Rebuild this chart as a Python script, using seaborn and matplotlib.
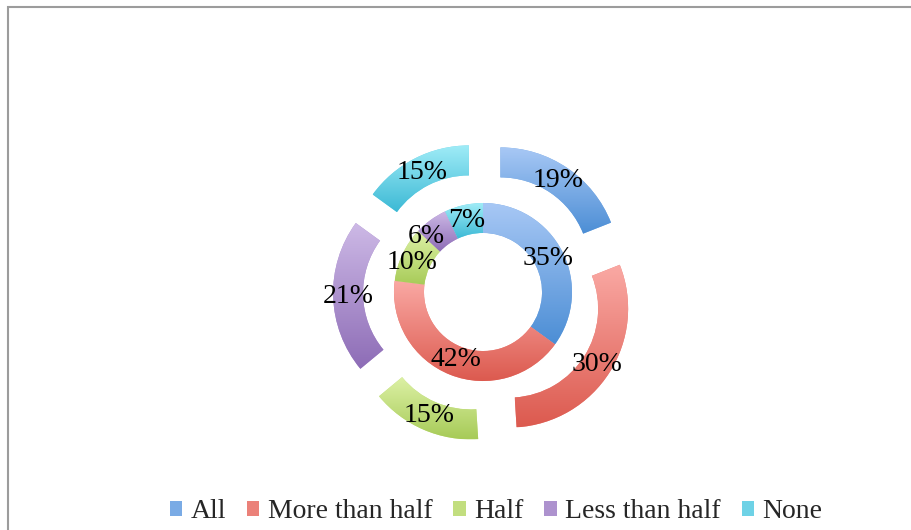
import numpy as np
import matplotlib
matplotlib.use("Agg")
import matplotlib.pyplot as plt
from matplotlib.patches import Patch, Rectangle
from matplotlib.colors import LinearSegmentedColormap
import seaborn as sns

# data
categories = ["All", "More than half", "Half", "Less than half", "None"]
inner_values = [35, 42, 10, 6, 7]
outer_values = [19, 30, 15, 21, 15]

# gradient colours (light top -> dark bottom)
light_colors = ["#A8C8F5", "#FAA9A4", "#DDF1A6", "#CDB9E6", "#A0ECF7"]
dark_colors = ["#4C8ED5", "#DC5A4F", "#A7CB58", "#8D6CB6", "#3CB9D5"]
mid_colors = [sns.blend_palette([l, d], 3)[1] for l, d in zip(light_colors, dark_colors)]

sns.set_style("white")
plt.rcParams["font.family"] = ["Liberation Serif", "DejaVu Serif"]

fig = plt.figure(figsize=(9.12, 5.30), dpi=100)
# axes: 400x400 px square centred at (483, 292) px
ax = fig.add_axes([283 / 912, 38 / 530, 400 / 912, 400 / 530])
lim = 200 / 119

# outer ring, exploded
outer_wedges, _, outer_txt = ax.pie(
    outer_values, radius=1.0, startangle=90, counterclock=False,
    explode=[0.26] * 5, colors=mid_colors,
    wedgeprops=dict(width=0.252, edgecolor="none"),
    autopct="%d%%", pctdistance=0.87)

# inner ring
inner_wedges, _, inner_txt = ax.pie(
    inner_values, radius=0.748, startangle=90, counterclock=False,
    colors=mid_colors,
    wedgeprops=dict(width=0.252, edgecolor="none"),
    autopct="%d%%", pctdistance=0.82)

# vertical gradient fill clipped to each wedge
grad = np.linspace(0, 1, 256).reshape(-1, 1)
for wedges in (outer_wedges, inner_wedges):
    for i, w in enumerate(wedges):
        bb = w.get_path().get_extents()
        cmap = LinearSegmentedColormap.from_list("g", [light_colors[i], dark_colors[i]])
        im = ax.imshow(grad, cmap=cmap, aspect="auto", origin="upper",
                       extent=[bb.x0, bb.x1, bb.y0, bb.y1], zorder=w.get_zorder() + 0.1)
        im.set_clip_path(w)

for t in list(outer_txt) + list(inner_txt):
    t.set_fontsize(20)
    t.set_color("black")
    t.set_zorder(5)

# small label nudges like the original (crowded 6% / 7% / 10%)
x, y = inner_txt[3].get_position()
inner_txt[3].set_position((x - 14 / 119, y - 4 / 119))
x, y = inner_txt[2].get_position()
inner_txt[2].set_position((x - 5 / 119, y - 2 / 119))

ax.set_xlim(-lim, lim)
ax.set_ylim(-lim, lim)
ax.set_aspect("equal")
ax.axis("off")

handles = [Patch(facecolor=c, edgecolor="none") for c in mid_colors]
fig.legend(handles, categories, loc="center", bbox_to_anchor=(496 / 912, 1 - 512 / 530),
           ncol=5, frameon=False, fontsize=20, handlelength=0.45, handleheight=0.45,
           handletextpad=0.3, columnspacing=0.75)

# chart area border (cut off at right and bottom)
fig.patches.append(Rectangle((8.5 / 912, -0.1), 1.2, 1.1 - 7.5 / 530,
                             transform=fig.transFigure, fill=False,
                             edgecolor="#9c9c9c", linewidth=1.5))

fig.savefig("out.png", dpi=100)
